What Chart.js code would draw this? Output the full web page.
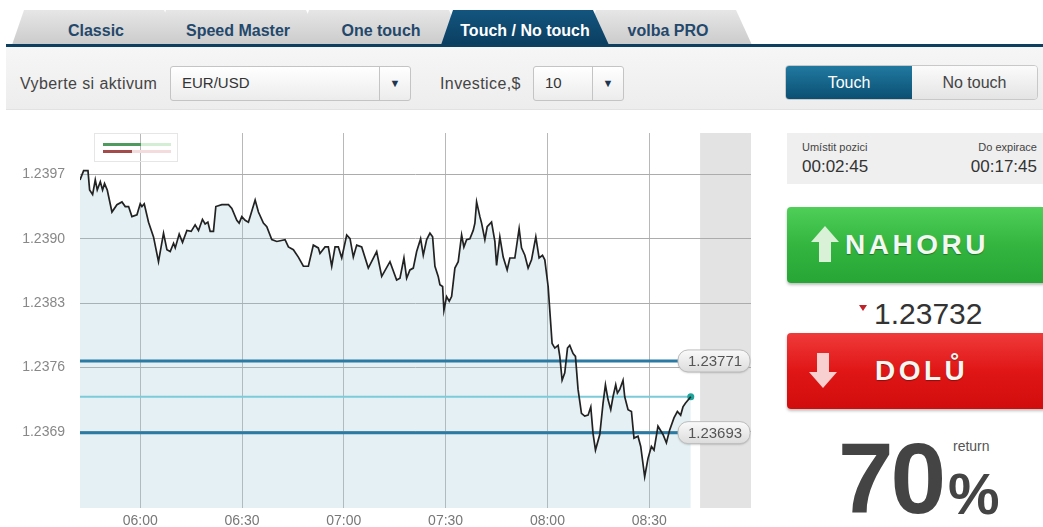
<!DOCTYPE html>
<html lang="cs">
<head>
<meta charset="UTF-8">
<title>Touch / No touch</title>
<script src="https://cdn.jsdelivr.net/npm/chart.js"></script>
<style>
body { margin: 0; background: #fff; font-family: "Liberation Sans", Arial, sans-serif; }
#page { position: relative; width: 1043px; height: 527px; overflow: hidden; background: #fff; }
.tab { position: absolute; top: 10px; height: 35px; width: 168px; text-align: center;
  font: bold 16px "Liberation Sans Narrow", "Arial Narrow", "Liberation Sans", sans-serif; line-height: 41px; color: #24486b;
  background: linear-gradient(#e6e6e6, #cbcbcb); clip-path: polygon(12px 0, calc(100% - 16px) 0, 100% 100%, 0 100%);
  border-radius: 8px 8px 0 0; }
.tab.active { background: linear-gradient(#13557f, #0b3e60); color: #fff; z-index: 5; }
#tabline { position: absolute; left: 6px; right: 0; top: 44px; height: 3px; background: #0d3f61; z-index: 6; }
#toolbar { position: absolute; left: 6px; right: 0; top: 47px; height: 62px; background: linear-gradient(#f6f6f6, #ededed); border-bottom: 1px solid #e2e2e2; }
.lbl { position: absolute; top: 75px; font-size: 16px; letter-spacing: 0.4px; color: #444; }
.sel { position: absolute; top: 66px; height: 35px; background: linear-gradient(#fff, #ececec); border: 1px solid #c4c4c4; border-radius: 3px; box-sizing: border-box; font-size: 15px; color: #333; }
.sel span { position: absolute; left: 11px; top: 7px; }
.sel b { position: absolute; right: 0; top: 0; bottom: 0; width: 30px; border-left: 1px solid #c4c4c4; text-align: center; line-height: 33px; font-size: 11px; color: #1f3550; }
#toggle { position: absolute; left: 785px; top: 65px; width: 253px; height: 35px; border-radius: 4px; overflow: hidden; border: 1px solid #c8c8c8; box-sizing: border-box; font-size: 16px; }
#toggle div { position: absolute; top: 0; bottom: 0; text-align: center; line-height: 33px; }
#t1 { left: 0; width: 126px; background: linear-gradient(#2179a0, #0b4f73); color: #fff; }
#t2 { left: 126px; right: 0; background: linear-gradient(#fbfbfb, #e4e4e4); color: #444; }
#chartbox { position: absolute; left: 0; top: 120px; width: 760px; height: 407px; }
#sentiment { position: absolute; left: 94px; top: 133px; width: 84px; height: 29px; border: 1px solid #e6e6e6; box-sizing: border-box; }
#sentiment i { position: absolute; left: 8px; width: 68px; height: 3px; }
#info { position: absolute; left: 787px; top: 133px; width: 256px; height: 51px; background: #efefef; color: #444; }
#info .s { position: absolute; top: 8px; font-size: 11px; }
#info .t { position: absolute; top: 24px; font-size: 17px; color: #333; }
.btn { position: absolute; left: 787px; width: 270px; height: 76px; border-radius: 4px; box-shadow: 0 2px 3px rgba(0,0,0,0.25); }
.btn span { position: absolute; left: 58px; top: 22px; font: bold 28px "Liberation Sans", Arial, sans-serif; letter-spacing: 3.5px; color: #f2f7f2; text-shadow: 0 1px 1px rgba(0,0,0,0.35); }
#up { top: 207px; background: linear-gradient(#4fcf58, #33b540 50%, #27a535); }
#down { top: 333px; background: linear-gradient(#f03a3a, #e01616 50%, #d10c0c); }
#price { position: absolute; left: 874px; top: 297px; font-size: 30px; color: #333; }
#tri { position: absolute; left: 859px; top: 305px; width: 0; height: 0; border-left: 4px solid transparent; border-right: 4px solid transparent; border-top: 6px solid #c0222a; }
#ret { position: absolute; left: 838px; top: 421px; font: bold 100px "Liberation Sans", Arial, sans-serif; color: #444; letter-spacing: -3px; }
#pct { position: absolute; left: 948px; top: 460px; font: bold 58px "Liberation Sans", sans-serif; color: #444; }
#retw { position: absolute; left: 953px; top: 438px; font-size: 14px; color: #555; }
</style>
</head>
<body>
<div id="page">
  <div class="tab" style="left:12px">Classic</div>
  <div class="tab" style="left:154px">Speed Master</div>
  <div class="tab" style="left:297px">One touch</div>
  <div class="tab active" style="left:441px">Touch / No touch</div>
  <div class="tab" style="left:584px">volba PRO</div>
  <div id="tabline"></div>
  <div id="toolbar"></div>
  <div class="lbl" style="left:20px">Vyberte si aktivum</div>
  <div class="sel" style="left:170px;width:241px"><span>EUR/USD</span><b>&#9660;</b></div>
  <div class="lbl" style="left:440px">Investice,$</div>
  <div class="sel" style="left:533px;width:91px"><span>10</span><b>&#9660;</b></div>
  <div id="toggle"><div id="t1">Touch</div><div id="t2">No touch</div></div>

  <div id="chartbox"><canvas id="chart" width="760" height="407"></canvas></div>
  <div id="sentiment">
    <i style="top:9px;background:linear-gradient(90deg,#4f9a5d 0,#4f9a5d 56%,#d4eed6 56%)"></i>
    <i style="top:16px;background:linear-gradient(90deg,#a34a4a 0,#a34a4a 42%,#f5dcdc 42%)"></i>
  </div>

  <div id="info">
    <div class="s" style="left:15px">Umístit pozici</div>
    <div class="t" style="left:15px">00:02:45</div>
    <div class="s" style="right:6px">Do expirace</div>
    <div class="t" style="right:6px">00:17:45</div>
  </div>
  <div class="btn" id="up">
    <svg style="position:absolute;left:24px;top:19px" width="28" height="36"><polygon points="14,0 28,16 20,16 20,36 8,36 8,16 0,16" fill="#d9f1d6"/></svg>
    <span>NAHORU</span>
  </div>
  <div id="tri"></div>
  <div id="price">1.23732</div>
  <div class="btn" id="down">
    <svg style="position:absolute;left:22px;top:20px" width="28" height="35"><polygon points="8,0 20,0 20,19 28,19 14,35 0,19 8,19" fill="#f8d0d0"/></svg>
    <span style="left:88px">DOLŮ</span>
  </div>
  <div id="ret">70</div>
  <div id="retw">return</div>
  <div id="pct">%</div>
</div>

<script>
// EUR/USD quotes
var times = ['05:42:15','05:43:19','05:44:36','05:45:05','05:45:58','05:46:45','05:47:20','05:48:14','05:48:54','05:49:29',
  '05:50:17','05:51:40','05:53:08','05:54:37','05:55:35','05:56:34','05:57:33','05:59:02','06:00:00','06:00:30',
  '06:01:11','06:02:27','06:03:55','06:05:23','06:06:52','06:07:52','06:08:50','06:09:49','06:10:19','06:11:29',
  '06:12:28','06:13:45','06:15:01','06:16:11','06:17:10','06:18:20','06:19:08','06:19:56','06:20:37','06:21:35',
  '06:22:17','06:24:03','06:26:00','06:27:00','06:28:28','06:29:09','06:29:56','06:30:55','06:31:53','06:33:52',
  '06:34:50','06:36:18','06:37:18','06:38:46','06:40:15','06:42:41','06:43:40','06:45:08','06:46:36','06:48:05',
  '06:49:33','06:51:01','06:52:29','06:52:59','06:54:28','06:55:26','06:56:26','06:57:25','06:58:23','06:59:23',
  '07:00:51','07:01:50','07:02:48','07:03:48','07:05:16','07:07:13','07:09:41','07:11:10','07:13:36','07:15:34',
  '07:16:33','07:17:43','07:18:31','07:19:29','07:20:28','07:21:28','07:22:38','07:23:25','07:24:25','07:25:23',
  '07:26:10','07:26:51','07:27:49','07:28:19','07:29:07','07:29:30','07:30:17','07:31:04','07:31:46','07:32:44',
  '07:33:43','07:34:43','07:35:23','07:36:11','07:37:09','07:38:08','07:38:38','07:39:08','07:40:06','07:40:36',
  '07:41:34','07:42:15','07:43:32','07:44:31','07:45:01','07:45:59','07:46:58','07:48:08','07:48:56','07:50:24',
  '07:51:40','07:52:22','07:53:21','07:54:19','07:55:19','07:56:35','07:57:33','07:58:33','07:59:14','08:00:13',
  '08:01:23','08:02:11','08:03:09','08:03:39','08:04:20','08:05:07','08:05:55','08:06:35','08:07:34','08:08:16',
  '08:09:02','08:10:02','08:11:00','08:11:59','08:12:47','08:13:27','08:14:10','08:15:26','08:16:24','08:17:06',
  '08:17:52','08:18:40','08:19:20','08:20:08','08:20:38','08:21:19','08:22:17','08:22:47','08:23:46','08:24:46',
  '08:25:31','08:26:42','08:27:30','08:28:40','08:29:39','08:30:39','08:31:25','08:32:35','08:34:04','08:35:04',
  '08:36:02','08:37:18','08:38:18','08:39:16','08:39:57','08:40:40','08:42:15'];
var prices = [1.23968,1.23978,1.23978,1.23957,1.23952,1.23968,1.23957,1.23966,1.23957,1.23964,
  1.23957,1.23933,1.23941,1.23944,1.23939,1.23939,1.23928,1.23930,1.23942,1.23939,
  1.23942,1.23922,1.23906,1.23879,1.23910,1.23892,1.23890,1.23899,1.23894,1.23909,
  1.23900,1.23913,1.23912,1.23919,1.23913,1.23925,1.23920,1.23922,1.23912,1.23912,
  1.23939,1.23941,1.23941,1.23937,1.23924,1.23921,1.23928,1.23924,1.23922,1.23946,
  1.23933,1.23921,1.23917,1.23903,1.23901,1.23903,1.23895,1.23892,1.23884,1.23874,
  1.23874,1.23897,1.23894,1.23888,1.23895,1.23895,1.23874,1.23895,1.23895,1.23883,
  1.23908,1.23904,1.23884,1.23897,1.23895,1.23872,1.23890,1.23863,1.23879,1.23859,
  1.23861,1.23883,1.23861,1.23870,1.23872,1.23890,1.23904,1.23886,1.23903,1.23910,
  1.23906,1.23874,1.23863,1.23854,1.23852,1.23826,1.23841,1.23836,1.23841,1.23872,
  1.23879,1.23908,1.23895,1.23903,1.23904,1.23913,1.23921,1.23944,1.23928,1.23921,
  1.23903,1.23917,1.23922,1.23901,1.23875,1.23906,1.23884,1.23870,1.23883,1.23883,
  1.23915,1.23894,1.23886,1.23872,1.23881,1.23906,1.23883,1.23886,1.23881,1.23852,
  1.23790,1.23785,1.23788,1.23776,1.23750,1.23758,1.23785,1.23788,1.23779,1.23776,
  1.23740,1.23714,1.23711,1.23712,1.23721,1.23692,1.23674,1.23691,1.23725,1.23745,
  1.23729,1.23718,1.23732,1.23745,1.23736,1.23740,1.23750,1.23732,1.23718,1.23716,
  1.23687,1.23689,1.23678,1.23645,1.23665,1.23678,1.23674,1.23700,1.23691,1.23682,
  1.23696,1.23709,1.23716,1.23712,1.23721,1.23725,1.23732];

var xTickLabels = ['06:00','06:30','07:00','07:30','08:00','08:30'];
var yTickValues = [1.23694, 1.23764, 1.23834, 1.23904, 1.23974];
var barriers = [1.23771, 1.23693];
var currentPrice = 1.23732;
var currentTime = '08:42:15';
var axisStart = '05:42:15';
var axisEnd = '09:00:00';
var closedFrom = '08:45:00';
var yMin = 1.23611, yMax = 1.24019;

function toMin(s) {
  var p = s.split(':');
  return p[0] * 60 + p[1] * 1 + (p[2] ? p[2] / 60 : 0);
}
function fmtTime(m) {
  var h = Math.floor(m / 60), mm = Math.round(m % 60);
  return (h < 10 ? '0' : '') + h + ':' + (mm < 10 ? '0' : '') + mm;
}
function noPad(s) {
  s.paddingTop = 0; s.paddingBottom = 0; s.paddingLeft = 0; s.paddingRight = 0;
}

var quotes = times.map(function (t, i) { return { x: toMin(t), y: prices[i] }; });
var lineFrom = toMin(axisStart), lineTo = toMin(currentTime);

// grey zone after the last moment to place a position
var closedZone = {
  id: 'closedZone',
  beforeDraw: function (chart) {
    var a = chart.chartArea, x = chart.scales.x, ctx = chart.ctx;
    var l = x.getPixelForValue(toMin(closedFrom)), r = x.getPixelForValue(toMin(axisEnd));
    ctx.save();
    ctx.fillStyle = '#e3e3e3';
    ctx.fillRect(l, a.top, r - l, a.bottom - a.top);
    ctx.restore();
  }
};

// pill labels for the two barriers
var barrierTags = {
  id: 'barrierTags',
  afterDatasetsDraw: function (chart) {
    var ctx = chart.ctx, a = chart.chartArea, y = chart.scales.y;
    barriers.forEach(function (b) {
      var py = y.getPixelForValue(b), w = 72, h = 22, l = a.right - w - 1, t = py - h / 2;
      ctx.save();
      var g = ctx.createLinearGradient(0, t, 0, t + h);
      g.addColorStop(0, '#fafafa');
      g.addColorStop(1, '#dcdcdc');
      ctx.beginPath();
      ctx.roundRect(l, t, w, h, 10);
      ctx.shadowColor = 'rgba(0,0,0,0.2)';
      ctx.shadowOffsetY = 1;
      ctx.shadowBlur = 2;
      ctx.fillStyle = g;
      ctx.fill();
      ctx.shadowColor = 'transparent';
      ctx.strokeStyle = '#bdbdbd';
      ctx.lineWidth = 1;
      ctx.stroke();
      ctx.fillStyle = '#555';
      ctx.font = '15px "Liberation Sans", Arial, sans-serif';
      ctx.textAlign = 'center';
      ctx.textBaseline = 'middle';
      ctx.fillText(b.toFixed(5), l + w / 2 + 1, py + 1);
      ctx.restore();
    });
  }
};

var datasets = [
  {
    data: quotes,
    borderColor: '#222',
    borderWidth: 1.7,
    backgroundColor: 'rgba(150,196,210,0.26)',
    fill: 'start',
    pointRadius: 0,
    tension: 0
  },
  {
    data: [{ x: lineFrom, y: currentPrice }, { x: lineTo, y: currentPrice }],
    borderColor: '#7ccbd8',
    borderWidth: 2,
    pointRadius: function (c) { return c.dataIndex === 1 ? 3.5 : 0; },
    pointBackgroundColor: '#1ca39a',
    pointBorderWidth: 0,
    fill: false
  }
];
barriers.forEach(function (b) {
  datasets.push({
    data: [{ x: lineFrom, y: b }, { x: lineTo, y: b }],
    borderColor: '#2b7aa3',
    borderWidth: 3,
    pointRadius: 0,
    fill: false
  });
});

new Chart(document.getElementById('chart'), {
  type: 'line',
  data: { datasets: datasets },
  options: {
    responsive: false,
    animation: false,
    devicePixelRatio: 1,
    layout: { padding: { top: 13, right: 9, left: 0, bottom: 0 } },
    plugins: {
      legend: { display: false },
      tooltip: { enabled: false },
      filler: { drawTime: 'beforeDatasetsDraw' }
    },
    scales: {
      x: {
        type: 'linear',
        min: toMin(axisStart),
        max: toMin(axisEnd),
        afterBuildTicks: function (s) { s.ticks = xTickLabels.map(function (l) { return { value: toMin(l) }; }); },
        afterFit: function (s) { s.height = 19; noPad(s); },
        grid: { color: '#b8b8b8', drawTicks: false },
        border: { display: false },
        ticks: {
          padding: 5,
          color: '#777',
          font: { size: 14, family: '"Liberation Sans", Arial, sans-serif' },
          callback: function (v) { return fmtTime(v); }
        }
      },
      y: {
        min: yMin,
        max: yMax,
        afterBuildTicks: function (s) { s.ticks = yTickValues.map(function (v) { return { value: v }; }); },
        afterFit: function (s) { s.width = 80; noPad(s); },
        grid: { color: '#acacac', drawTicks: false },
        border: { display: false },
        ticks: {
          padding: 15,
          color: '#888',
          font: { size: 14, family: '"Liberation Sans", Arial, sans-serif' },
          callback: function (v) { return v.toFixed(4); }
        }
      }
    }
  },
  plugins: [closedZone, barrierTags]
});
</script>
</body>
</html>
